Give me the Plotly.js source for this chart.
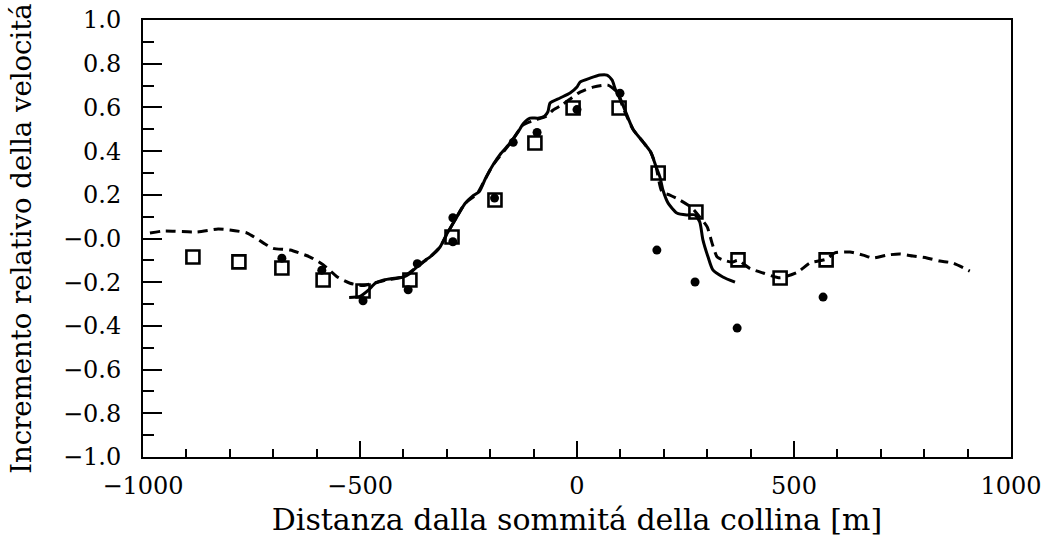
<!DOCTYPE html>
<html>
<head>
<meta charset="utf-8">
<script src="https://cdn.plot.ly/plotly-3.0.1.min.js"></script>
<style>html,body{margin:0;padding:0;background:#fff;}#chart{width:1042px;height:544px;}</style>
</head>
<body>
<div id="chart"></div>
<script>
// Solid line (computed / model 1)
const solidX = [-525,-500,-480,-465,-445,-420,-400,-385,-369,-350,-339,-316,-300,-281,-258,-240,-225,-212,-194,-175,-154,-135,-124,-108,-90,-75,-67,-62,-39,-16,0,7,30,53,69,81,88,99,110,129,152,170,182,191,198,210,230,253,272,283,290,302,313,336,364];
const solidY = [-0.27,-0.265,-0.235,-0.205,-0.19,-0.182,-0.176,-0.16,-0.13,-0.1,-0.085,-0.04,0.02,0.085,0.16,0.195,0.215,0.27,0.335,0.39,0.437,0.49,0.525,0.551,0.551,0.56,0.58,0.62,0.643,0.666,0.693,0.716,0.734,0.748,0.748,0.725,0.685,0.643,0.59,0.5,0.442,0.395,0.33,0.282,0.222,0.162,0.117,0.108,0.108,0.075,-0.005,-0.085,-0.144,-0.176,-0.2];

// Dashed line (computed / model 2)
const dashX = [-984,-954,-876,-827,-800,-760,-723,-700,-661,-615,-585,-553,-523,-493,-470,-440,-400,-369,-339,-316,-300,-281,-258,-230,-212,-194,-154,-124,-100,-70,-55,-35,7,37,71,92,106,129,152,170,182,196,214,237,265,283,300,311,323,336,357,371,399,429,468,509,537,574,594,629,659,682,714,744,774,806,836,866,905];
const dashY = [0.025,0.034,0.03,0.043,0.039,0.025,-0.02,-0.045,-0.053,-0.085,-0.12,-0.175,-0.205,-0.215,-0.205,-0.19,-0.175,-0.13,-0.085,-0.04,0.02,0.085,0.16,0.205,0.27,0.335,0.435,0.52,0.54,0.56,0.588,0.611,0.67,0.693,0.702,0.67,0.6,0.5,0.442,0.395,0.33,0.213,0.199,0.176,0.14,0.098,0.053,-0.02,-0.085,-0.098,-0.108,-0.1,-0.138,-0.158,-0.18,-0.153,-0.112,-0.095,-0.066,-0.062,-0.076,-0.089,-0.076,-0.071,-0.08,-0.089,-0.103,-0.112,-0.149];

// Open squares (measurements 1)
const sqX = [-885,-779,-680,-585,-493,-385,-288,-189,-97,-9,97,187,274,371,468,574];
const sqY = [-0.085,-0.107,-0.135,-0.19,-0.24,-0.19,0.007,0.176,0.437,0.597,0.597,0.30,0.121,-0.098,-0.181,-0.098];

// Filled dots (measurements 2)
const dotX = [-680,-588,-493,-389,-368,-286,-286,-190,-147,-92,0,99,184,272,369,567];
const dotY = [-0.09,-0.145,-0.285,-0.235,-0.115,-0.015,0.095,0.185,0.44,0.485,0.59,0.665,-0.053,-0.199,-0.41,-0.268];

const yTickVals = [1.0,0.8,0.6,0.4,0.2,0.0,-0.2,-0.4,-0.6,-0.8,-1.0];
const yTickText = ["1.0","0.8","0.6","0.4","0.2","\u22120.0","\u22120.2","\u22120.4","\u22120.6","\u22120.8","\u22121.0"];
const xTickVals = [-1000,-500,0,500,1000];
const xTickText = ["\u22121000","\u2212500","0","500","1000"];

const FONT = "DejaVu Serif, serif";

const traces = [
  {x: dashX, y: dashY, mode: 'lines', line: {color: '#000', width: 3, dash: '10px,6px', shape: 'spline', smoothing: 0.6}, showlegend: false, hoverinfo: 'skip'},
  {x: solidX, y: solidY, mode: 'lines', line: {color: '#000', width: 3, shape: 'spline', smoothing: 0.6}, showlegend: false, hoverinfo: 'skip'},
  {x: dotX, y: dotY, mode: 'markers', marker: {symbol: 'circle', size: 9, color: '#000'}, showlegend: false},
  {x: sqX, y: sqY, mode: 'markers', marker: {symbol: 'square-open', size: 13, color: '#000', line: {width: 2.6, color: '#000'}}, showlegend: false}
];

const layout = {
  width: 1042, height: 544,
  margin: {l: 143, r: 31, t: 20, b: 87},
  paper_bgcolor: '#fff', plot_bgcolor: '#fff',
  font: {family: FONT, color: '#000', size: 24},
  xaxis: {
    range: [-1000, 1000], showgrid: false, zeroline: false,
    showline: true, linecolor: '#000', linewidth: 2, mirror: true,
    tickmode: 'array', tickvals: xTickVals, ticktext: xTickText,
    ticks: 'inside', ticklen: 16, tickwidth: 2, tickcolor: '#000',
    minor: {tickmode: 'linear', tick0: -1000, dtick: 100, ticks: 'inside', ticklen: 8, tickwidth: 2, tickcolor: '#000'},
    tickfont: {family: FONT, size: 24, color: '#000'},
    ticklabelstandoff: 6,
    title: {text: 'Distanza dalla sommitá della collina [m]', font: {family: FONT, size: 30, color: '#000'}, standoff: 10},
    automargin: false
  },
  yaxis: {
    range: [-1.0, 1.0], showgrid: false, zeroline: false,
    showline: true, linecolor: '#000', linewidth: 2, mirror: true,
    tickmode: 'array', tickvals: yTickVals, ticktext: yTickText,
    ticks: 'inside', ticklen: 19, tickwidth: 2, tickcolor: '#000',
    minor: {tickmode: 'linear', tick0: -1.0, dtick: 0.1, ticks: 'inside', ticklen: 11, tickwidth: 2, tickcolor: '#000'},
    tickfont: {family: FONT, size: 24, color: '#000'},
    ticklabelstandoff: 15,
    title: {text: 'Incremento relativo della velocitá', font: {family: FONT, size: 27.5, color: '#000'}, standoff: 23},
    automargin: false
  }
};

Plotly.newPlot('chart', traces, layout, {displayModeBar: false, staticPlot: true});
</script>
</body>
</html>
